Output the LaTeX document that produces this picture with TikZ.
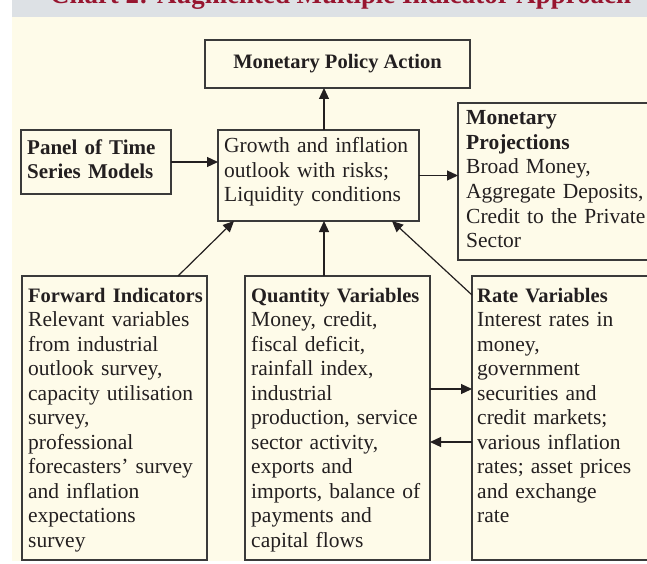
\documentclass[tikz,border=0pt]{standalone}
\usepackage{fontspec}
\setmainfont{Liberation Serif}
\usetikzlibrary{arrows.meta,calc}
\definecolor{paper}{HTML}{FEFBE9}
\definecolor{band}{HTML}{DDE1E5}
\definecolor{titlered}{HTML}{97152F}
\definecolor{ink}{HTML}{231F20}
\definecolor{rule}{HTML}{3A3A3A}
\begin{document}
\begin{tikzpicture}[x=1pt,y=-1pt,
  frame/.style={draw=rule, line width=1.4pt, fill=paper, anchor=north west,
    inner sep=0pt, outer sep=0pt},
  body/.style={anchor=base west, inner sep=0pt, align=left, text=ink,
    font=\fontsize{21.5}{24.5}\selectfont},
  arr/.style={draw=ink, line width=1.2pt, -{Triangle[length=11pt,width=10pt]}}]
\clip (0,0) rectangle (647,564);
\useasboundingbox (0,0) rectangle (647,564);
% page, title band and panel background
\fill[white] (0,0) rectangle (647,564);
\fill[band] (12,0) rectangle (647,17);
\fill[paper] (12,17) rectangle (647,561);
\node[anchor=base west, inner sep=0pt, text=titlered,
  font=\fontsize{26.9}{30}\selectfont\bfseries] (title) at (50,4)
  {Chart 2: Augmented Multiple Indicator Approach};

% boxes
\node[frame, minimum width=265pt, minimum height=48pt, text=ink,
  font=\fontsize{20.5}{24.5}\selectfont\bfseries] (mpa) at (205,40)
  {Monetary Policy Action};
\node[frame, minimum width=150pt, minimum height=64pt] (panel) at (21,130) {};
\node[frame, minimum width=201pt, minimum height=91pt] (center) at (218,130) {};
\node[frame, minimum width=210pt, minimum height=157pt] (proj) at (458,103) {};
\node[frame, minimum width=185pt, minimum height=284pt] (fwd) at (22,276) {};
\node[frame, minimum width=185pt, minimum height=284pt] (qty) at (245,276) {};
\node[frame, minimum width=200pt, minimum height=284pt] (rate) at (472,276) {};

% box texts
\node[body, text width=145pt] (panelt) at (27,154)
  {{\fontsize{21}{24.5}\selectfont\bfseries Panel of Time}\\
   {\fontsize{21}{24.5}\selectfont\bfseries Series Models}};
\node[body, text width=195pt] (centert) at (224,153)
  {Growth and inflation\\outlook with risks;\\Liquidity conditions};
\node[body, text width=185pt] (projt) at (466,125)
  {{\bfseries Monetary}\\{\bfseries Projections}\\Broad Money,\\Aggregate Deposits,\\Credit to the Private\\Sector};
\node[body, text width=180pt] (fwdt) at (28,302)
  {{\fontsize{20.5}{24.5}\selectfont\bfseries Forward Indicators}\\
   Relevant variables\\from industrial\\outlook survey,\\capacity utilisation\\survey,\\professional\\forecasters' survey\\and inflation\\expectations\\survey};
\node[body, text width=180pt] (qtyt) at (251,302)
  {{\fontsize{20.5}{24.5}\selectfont\bfseries Quantity Variables}\\
   Money, credit,\\fiscal deficit,\\rainfall index,\\industrial\\production, service\\sector activity,\\exports and\\imports, balance of\\payments and\\capital flows};
\node[body, text width=170pt] (ratet) at (477,302)
  {{\fontsize{20.5}{24.5}\selectfont\bfseries Rate Variables}\\
   Interest rates in\\money,\\government\\securities and\\credit markets;\\various inflation\\rates; asset prices\\and exchange\\rate};

% connectors
\coordinate (spine) at (324,0);
\draw[arr] (spine |- center.north) -- (spine |- mpa.south);
\draw[arr] (panel.east) -- (center.west |- panel.east);
\draw[arr] (center.east) -- (proj.west |- center.east);
\draw[arr] ($(fwd.north west)+(156,0)$) -- ($(center.south west)+(16,0)$);
\draw[arr] (spine |- qty.north) -- (spine |- center.south);
\draw[arr] ($(rate.north west)+(0,19)$) -- ($(center.south east)+(-27,0)$);
\draw[arr] ($(qty.north east)+(0,113)$) -- ($(rate.north west)+(0,113)$);
\draw[arr] ($(rate.north west)+(0,166)$) -- ($(qty.north east)+(0,166)$);
\end{tikzpicture}
\end{document}
